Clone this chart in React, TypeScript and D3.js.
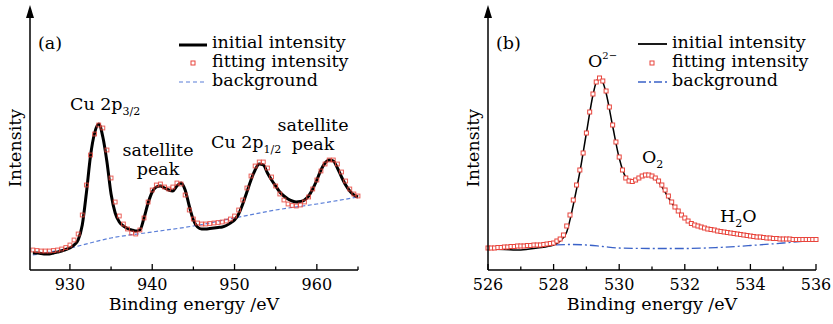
import React from 'react';
import * as d3 from 'd3';

// ---------- Panel (a): Cu 2p ----------
const A_ENERGY_START = 925.5; // eV, sampling grid start
const A_ENERGY_STEP = 0.5;   // eV, sampling grid step
const A_INITIAL = [
  17, 17, 16.5, 16, 16, 17, 18, 19, 20.5, 22,
  25, 30, 45, 77, 114, 137, 146, 133, 108, 76,
  57, 48, 44, 41.5, 40, 39, 40, 52, 67, 78,
  83, 84, 82, 80, 79, 84, 87, 80, 64, 50,
  43, 41, 41, 41.5, 42, 42.5, 43, 44.5, 47, 50,
  56, 66, 78, 90, 100, 106, 105, 97, 90, 84,
  78, 74, 71, 69, 68, 68.5, 70, 74, 81, 90,
  100, 107, 110, 109, 102, 93, 85, 79, 75, 73,
];
const A_FITTING = [
  20, 19.5, 19, 19, 19, 19.5, 20, 21, 22.5, 25,
  30, 36, 55, 85, 115, 136, 145, 142, 120, 92,
  68, 54, 46, 41, 37, 36, 40, 52, 68, 80,
  85, 86, 83, 81, 83, 87, 86, 75, 60, 51,
  47, 46, 46, 46.5, 47, 47.5, 48, 49, 51, 54,
  60, 70, 82, 94, 104, 108, 108, 102, 93, 84,
  76, 70, 66, 64.5, 64, 65, 68, 73, 81, 90,
  99, 106, 110, 110, 106, 98, 89, 81, 76, 74,
];
const A_BG_ENERGY = [925.5, 930, 935, 940, 945, 950, 955, 960, 965];
const A_BG = [15, 22, 32, 38, 44, 52, 60, 66, 73];
const A_MAJOR_TICKS = [930, 940, 950, 960];
const A_MINOR_TICKS = [935, 945, 955, 965];

// ---------- Panel (b): O 1s ----------
const B_INIT_ENERGY = [
  526, 526.5, 527, 527.5, 528, 528.2, 528.4, 528.6, 528.8, 529.0,
  529.2, 529.3, 529.4, 529.5, 529.6, 529.8, 530.0, 530.2, 530.4, 530.6,
  530.8, 531.0, 531.2, 531.4, 531.6, 531.8, 532.0, 532.3, 532.6, 533.0,
  533.5, 534.0, 534.5, 535.0, 535.5, 536,
];
const B_INITIAL = [
  21, 20.5, 20, 22, 25, 29, 38, 65, 98, 137,
  175, 188, 192, 188, 177, 144, 112, 93, 89, 92,
  95, 93, 88, 78, 67, 59, 52, 45, 42, 39,
  36, 34, 32, 31, 30.5, 30.5,
];
const B_FIT_START = 526;
const B_FIT_STEP = 0.1;
const B_FITTING = [
  22, 22, 22, 22.5, 22.5, 23, 23, 23.5, 23.5, 24,
  24, 24, 24.5, 24.5, 25, 25, 25, 25.5, 26, 26.5,
  27, 29, 31, 35, 44, 55, 70, 85, 100, 117,
  137, 158, 176, 188, 192, 189, 179, 163, 145, 128,
  113, 100, 92, 89, 88.5, 90, 92, 94, 95, 95,
  94, 92, 89, 85, 80, 74, 68, 63, 59, 55,
  52, 49, 46.5, 45, 44, 43, 42, 41, 40.5, 40,
  39, 38.5, 38, 37.5, 37, 36.5, 36, 35.5, 35, 34.5,
  34, 33.5, 33, 33, 32.5, 32, 32, 31.5, 31.5, 31,
  31, 31, 31, 30.5, 30.5, 30.5, 30.5, 30.5, 30.5, 30.5,
  30.5,
];
const B_BG_ENERGY = [526, 527, 528, 528.5, 529, 529.5, 530, 531, 532, 533, 534, 535, 536];
const B_BG = [22, 23, 25, 25.5, 25, 23.5, 22, 21.5, 21.5, 22.5, 24.5, 27, 30];
const B_MAJOR_TICKS = [526, 528, 530, 532, 534, 536];
const B_MINOR_TICKS = [527, 529, 531, 533, 535];

const LEGEND_LABELS = ['initial intensity', 'fitting intensity', 'background'];
const X_TITLE = 'Binding energy /eV';
const Y_TITLE = 'Intensity';

const FONT = "'DejaVu Serif', serif";
const RED = '#e8453c';
const BLUE_A = '#5b7fd8';
const BLUE_B = '#3a62c8';

type Pt = [number, number];

function Axes({ x, y, x0, x1, major, minor, labelFs }: any) {
  const baseY = y(0);
  return (
    <g>
      <line x1={x0} x2={x1} y1={baseY} y2={baseY} stroke="#000" strokeWidth={1.5} />
      <line x1={x0} x2={x0} y1={baseY} y2={16} stroke="#000" strokeWidth={1.5} />
      <path d={`M${x0},5 L${x0 - 4},18 L${x0 + 4},18 Z`} fill="#000" />
      {major.map((t: number) => (
        <g key={'M' + t}>
          <line x1={x(t)} x2={x(t)} y1={baseY} y2={baseY - 6} stroke="#000" strokeWidth={1.3} />
          <text x={x(t)} y={290} textAnchor="middle" fontFamily={FONT} fontSize={labelFs}>{t}</text>
        </g>
      ))}
      {minor.map((t: number) => (
        <line key={'m' + t} x1={x(t)} x2={x(t)} y1={baseY} y2={baseY - 3.5} stroke="#000" strokeWidth={1.3} />
      ))}
    </g>
  );
}

export default function App() {
  // Panel (a)
  const xa = d3.scaleLinear().domain([925.15, 965]).range([30, 358]);
  const ya = d3.scaleLinear().domain([0, 265]).range([270, 5]);
  const aInit: Pt[] = A_INITIAL.map((v, i) => [A_ENERGY_START + i * A_ENERGY_STEP, v]);
  const aFit: Pt[] = A_FITTING.map((v, i) => [A_ENERGY_START + i * A_ENERGY_STEP, v]);
  const aBg: Pt[] = A_BG.map((v, i) => [A_BG_ENERGY[i], v]);
  const lineA = d3.line<Pt>().x(d => xa(d[0])).y(d => ya(d[1])).curve(d3.curveMonotoneX);

  // Panel (b)
  const xb = d3.scaleLinear().domain([526, 536]).range([488, 816]);
  const yb = d3.scaleLinear().domain([0, 265]).range([270, 5]);
  const bInit: Pt[] = B_INITIAL.map((v, i) => [B_INIT_ENERGY[i], v]);
  const bFit: Pt[] = B_FITTING.map((v, i) => [B_FIT_START + i * B_FIT_STEP, v]);
  const bBg: Pt[] = B_BG.map((v, i) => [B_BG_ENERGY[i], v]);
  const lineB = d3.line<Pt>().x(d => xb(d[0])).y(d => yb(d[1])).curve(d3.curveMonotoneX);

  const sqA = 3.8;
  const sqB = 4;

  return (
    <svg width={833} height={324} style={{ position: 'absolute', left: 0, top: 0, background: '#fff' }}>
      <rect width={833} height={324} fill="#fff" />
      {/* ---------- Panel (a) ---------- */}
      <path d={lineA(aBg) || ''} fill="none" stroke={BLUE_A} strokeWidth={1.2} strokeDasharray="4,2.5" />
      <path d={lineA(aInit) || ''} fill="none" stroke="#000" strokeWidth={3} />
      {aFit.map((d, i) => (
        <rect key={i} x={xa(d[0]) - sqA / 2} y={ya(d[1]) - sqA / 2} width={sqA} height={sqA}
          fill="none" stroke={RED} strokeWidth={1} opacity={0.85} />
      ))}
      <Axes x={xa} y={ya} x0={30} x1={358} major={A_MAJOR_TICKS} minor={A_MINOR_TICKS} labelFs={16} />
      <text x={194} y={310} textAnchor="middle" fontFamily={FONT} fontSize={17.5}>{X_TITLE}</text>
      <text transform="translate(21,148) rotate(-90)" textAnchor="middle" fontFamily={FONT} fontSize={17.5}>{Y_TITLE}</text>
      <text x={38} y={49} fontFamily={FONT} fontSize={17.5}>(a)</text>
      {/* legend (a) */}
      <line x1={179} x2={207} y1={45} y2={45} stroke="#000" strokeWidth={3} />
      <rect x={193 - 2} y={63 - 2} width={4} height={4} fill="none" stroke={RED} strokeWidth={1} />
      <line x1={179} x2={207} y1={82} y2={82} stroke={BLUE_A} strokeWidth={1.2} strokeDasharray="4,3" />
      {LEGEND_LABELS.map((l, i) => (
        <text key={l} x={212} y={48 + i * 19} fontFamily={FONT} fontSize={17.5}>{l}</text>
      ))}
      {/* annotations (a) */}
      <text x={70} y={110} fontFamily={FONT} fontSize={17.5}>Cu 2p<tspan fontSize={11} dy={5}>3/2</tspan></text>
      <text x={158} y={156} textAnchor="middle" fontFamily={FONT} fontSize={17.5}>satellite</text>
      <text x={158} y={175} textAnchor="middle" fontFamily={FONT} fontSize={17.5}>peak</text>
      <text x={211} y={148} fontFamily={FONT} fontSize={17.5}>Cu 2p<tspan fontSize={11} dy={5}>1/2</tspan></text>
      <text x={313} y={131} textAnchor="middle" fontFamily={FONT} fontSize={17.5}>satellite</text>
      <text x={313} y={150} textAnchor="middle" fontFamily={FONT} fontSize={17.5}>peak</text>

      {/* ---------- Panel (b) ---------- */}
      <path d={lineB(bBg) || ''} fill="none" stroke={BLUE_B} strokeWidth={1.3} strokeDasharray="9,3,2,3" />
      <path d={lineB(bInit) || ''} fill="none" stroke="#000" strokeWidth={1.5} />
      {bFit.map((d, i) => (
        <rect key={i} x={xb(d[0]) - sqB / 2} y={yb(d[1]) - sqB / 2} width={sqB} height={sqB}
          fill="#fff" stroke={RED} strokeWidth={1} />
      ))}
      <Axes x={xb} y={yb} x0={488} x1={816} major={B_MAJOR_TICKS} minor={B_MINOR_TICKS} labelFs={16} />
      <text x={652} y={310} textAnchor="middle" fontFamily={FONT} fontSize={17.5}>{X_TITLE}</text>
      <text transform="translate(479,148) rotate(-90)" textAnchor="middle" fontFamily={FONT} fontSize={17.5}>{Y_TITLE}</text>
      <text x={496} y={49} fontFamily={FONT} fontSize={17.5}>(b)</text>
      {/* legend (b) */}
      <line x1={638} x2={667} y1={44} y2={44} stroke="#000" strokeWidth={1.8} />
      <rect x={652 - 2} y={63 - 2} width={4} height={4} fill="#fff" stroke={RED} strokeWidth={1} />
      <line x1={638} x2={667} y1={82} y2={82} stroke={BLUE_B} strokeWidth={1.3} strokeDasharray="8,3,2,3" />
      {LEGEND_LABELS.map((l, i) => (
        <text key={'b' + l} x={672} y={48 + i * 19} fontFamily={FONT} fontSize={17.5}>{l}</text>
      ))}
      {/* annotations (b) */}
      <text x={588} y={67} fontFamily={FONT} fontSize={17.5}>O<tspan fontSize={10} dy={-8}>2−</tspan></text>
      <text x={642} y={163} fontFamily={FONT} fontSize={17.5}>O<tspan fontSize={11} dy={5}>2</tspan></text>
      <text x={720} y={222} fontFamily={FONT} fontSize={17.5}>H<tspan fontSize={11} dy={5}>2</tspan><tspan dy={-5}>O</tspan></text>
    </svg>
  );
}
